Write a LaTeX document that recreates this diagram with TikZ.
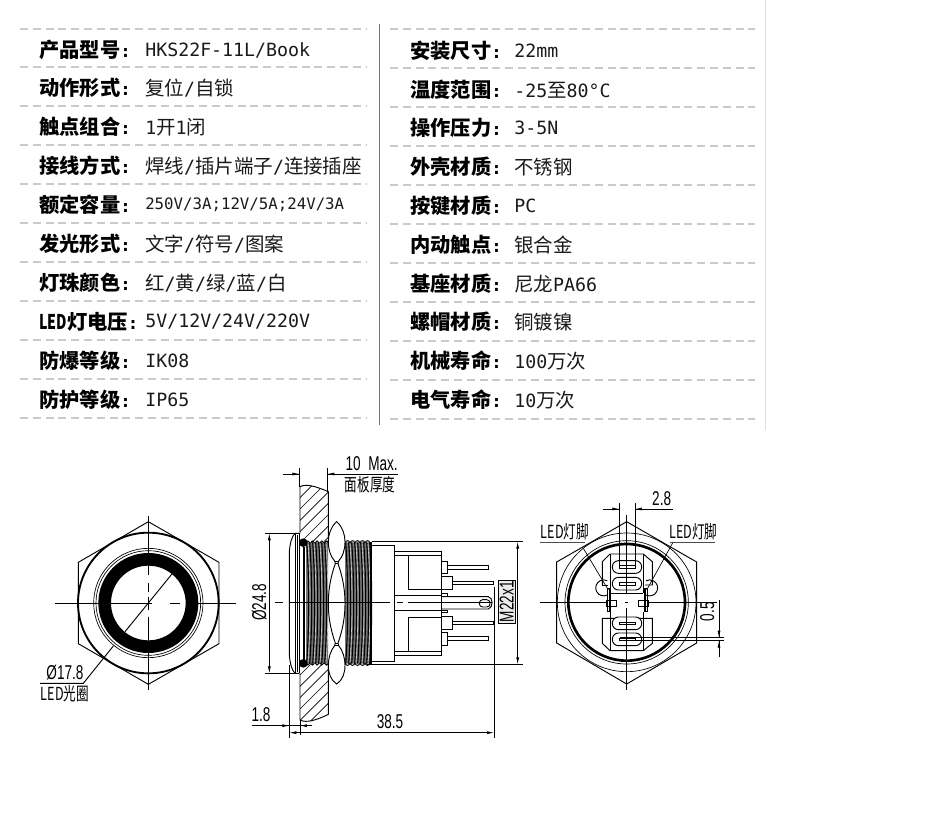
\documentclass[tikz,border=0pt]{standalone}
\usepackage{fontspec}
\usetikzlibrary{arrows.meta}
\newfontfamily\cjk{Noto Sans CJK SC}
\newfontfamily\monof{DejaVu Sans Mono}
\newfontfamily\drawf{Liberation Sans}
\newcommand{\lab}[1]{{\cjk\bfseries\fontsize{15.2}{16}\selectfont #1}{\monof\bfseries\fontsize{13}{16}\selectfont :}}
\newcommand{\ledlab}[1]{{\cjk\bfseries\fontsize{15.2}{16}\selectfont \scalebox{0.7}[1]{LED}#1}{\monof\bfseries\fontsize{13}{16}\selectfont :}}
\newcommand{\cv}[1]{{\cjk\fontsize{14.6}{16}\selectfont #1}}
\newcommand{\mv}[1]{{\monof\fontsize{13.7}{16}\selectfont #1}}
\newcommand{\msm}[1]{{\monof\fontsize{11.8}{16}\selectfont #1}}
\newcommand{\sls}{\mv{/}}
\newcommand{\dt}[1]{\scalebox{0.68}[1]{\drawf\fontsize{15}{15}\selectfont #1}}
\newcommand{\dc}[1]{\scalebox{0.7}[1]{\cjk\fontsize{13.5}{14}\selectfont #1}}
\definecolor{dashgray}{HTML}{CACACA}
\definecolor{inkc}{HTML}{1A1A1A}
\tikzset{
  rowlabel/.style={anchor=west,inner sep=0pt,text=black},
  rowvalue/.style={anchor=west,inner sep=0pt,text=inkc},
  rowrule/.style={dashgray,line width=1pt,dash pattern=on 6pt off 3.6pt},
  thin line/.style={line width=.5pt,black},
  mid line/.style={line width=.7pt,black},
  thick line/.style={line width=1.4pt,black},
  threadline/.style={line width=.85pt,black},
  threadgap/.style={line width=.25pt,white},
  dimarrow/.style={-{Latex[length=5.2pt,width=2.2pt]},line width=.5pt},
  dimtext/.style={inner sep=0pt},
}
\begin{document}
\begin{tikzpicture}[x=.75pt,y=-.75pt]
\useasboundingbox (0,0) rectangle (930,836);
% table frame
\draw[line width=.6pt,black!12] (765,0) -- (765,430);
\draw[line width=1.3pt,black!55] (379.5,24) -- (379.5,425);
\foreach \y in {29,67,106,145,184,223,262,301,340,379,418}{
  \draw[rowrule] (20,\y) -- (366,\y);
}
\foreach \y in {29,68,107,146,185,224,263,302,341,380,419}{
  \draw[rowrule] (390,\y) -- (755,\y);
}
% left column
\node[rowlabel] (la) at (39,50) {\lab{产品型号}};
\node[rowvalue] (va) at (145,50) {\mv{HKS22F-11L/Book}};
\node[rowlabel] (lb) at (39,88) {\lab{动作形式}};
\node[rowvalue] (vb) at (145,88) {\cv{复位}\sls\cv{自锁}};
\node[rowlabel] (lc) at (39,127) {\lab{触点组合}};
\node[rowvalue] (vc) at (145,127) {\mv{1}\cv{开}\mv{1}\cv{闭}};
\node[rowlabel] (ld) at (39,166) {\lab{接线方式}};
\node[rowvalue] (vd) at (145,166) {\cv{焊线}\sls\cv{插片端子}\sls\cv{连接插座}};
\node[rowlabel] (le) at (39,205) {\lab{额定容量}};
\node[rowvalue] (ve) at (145,205) {\msm{250V/3A;12V/5A;24V/3A}};
\node[rowlabel] (lf) at (39,244) {\lab{发光形式}};
\node[rowvalue] (vf) at (145,244) {\cv{文字}\sls\cv{符号}\sls\cv{图案}};
\node[rowlabel] (lg) at (39,283) {\lab{灯珠颜色}};
\node[rowvalue] (vg) at (145,283) {\cv{红}\sls\cv{黄}\sls\cv{绿}\sls\cv{蓝}\sls\cv{白}};
\node[rowlabel] (lh) at (39,322) {\ledlab{灯电压}};
\node[rowvalue] (vh) at (145,322) {\mv{5V/12V/24V/220V}};
\node[rowlabel] (li) at (39,361) {\lab{防爆等级}};
\node[rowvalue] (vi) at (145,361) {\mv{IK08}};
\node[rowlabel] (lj) at (39,400) {\lab{防护等级}};
\node[rowvalue] (vj) at (145,400) {\mv{IP65}};
% right column
\node[rowlabel] (ra) at (410,51) {\lab{安装尺寸}};
\node[rowvalue] (wa) at (514,51) {\mv{22mm}};
\node[rowlabel] (rb) at (410,90) {\lab{温度范围}};
\node[rowvalue] (wb) at (514,90) {\mv{-25}\cv{至}\mv{80°C}};
\node[rowlabel] (rc) at (410,128) {\lab{操作压力}};
\node[rowvalue] (wc) at (514,128) {\mv{3-5N}};
\node[rowlabel] (rd) at (410,167) {\lab{外壳材质}};
\node[rowvalue] (wd) at (514,167) {\cv{不锈钢}};
\node[rowlabel] (re) at (410,206) {\lab{按键材质}};
\node[rowvalue] (we) at (514,206) {\mv{PC}};
\node[rowlabel] (rf) at (410,245) {\lab{内动触点}};
\node[rowvalue] (wf) at (514,245) {\cv{银合金}};
\node[rowlabel] (rg) at (410,284) {\lab{基座材质}};
\node[rowvalue] (wg) at (514,284) {\cv{尼龙}\mv{PA66}};
\node[rowlabel] (rh) at (410,322) {\lab{螺帽材质}};
\node[rowvalue] (wh) at (514,322) {\cv{铜镀镍}};
\node[rowlabel] (ri) at (410,361) {\lab{机械寿命}};
\node[rowvalue] (wi) at (514,361) {\mv{100}\cv{万次}};
\node[rowlabel] (rj) at (410,400) {\lab{电气寿命}};
\node[rowvalue] (wj) at (514,400) {\mv{10}\cv{万次}};

% ---------- front view (zoom 1 coordinates)
\begin{scope}[shift={(20,440)},x=.25pt,y=-.25pt]
  \draw[mid line] (385,245) -- (597,367) -- (597,611) -- (385,733) -- (175,611) -- (175,367) -- cycle;
  \draw[thick line] (385,489) circle[radius=211];
  \draw[thin line] (385,489) circle[radius=164];
  \draw[thin line] (385,489) circle[radius=157];
  \fill[black,even odd rule] (385,489) circle[radius=150] (385,489) circle[radius=112];
  \draw[mid line] (105,489) -- (395,489) (450,489) -- (480,489) (497,489) -- (647,489);
  \draw[mid line] (385,228) -- (385,405) (385,430) -- (385,455) (385,470) -- (385,510) (385,530) -- (385,750);
  \draw[mid line] (455,403) -- (315,575) (280,618) -- (190,730) -- (60,730);
  \node[dimtext] (d178) at (135,698) {\dt{Ø17.8}};
  \node[dimtext] (dled) at (135,762) {\dc{LED光圈}};
\end{scope}

% ---------- side view (zoom 2 coordinates)
\begin{scope}[shift={(240,445)},x=.25pt,y=-.25pt]
  % panel with hatching
  \begin{scope}
    \clip (180,125) .. controls (200,115) and (230,125) .. (265,140) -- (265,290) -- (200,290) -- (180,265) -- cycle;
    \foreach \k in {0,...,12}{ \draw[thin line] (170,{100+34*\k}) -- ++(120,-120); }
  \end{scope}
  \begin{scope}
    \clip (180,825) .. controls (200,835) and (230,825) .. (265,808) -- (265,658) -- (200,658) -- (180,685) -- cycle;
    \foreach \k in {0,...,12}{ \draw[thin line] (170,{700+34*\k}) -- ++(120,-120); }
  \end{scope}
  \draw[mid line] (180,265) -- (180,125) .. controls (200,115) and (230,125) .. (265,140) -- (265,290);
  \draw[mid line] (180,685) -- (180,825) .. controls (200,835) and (230,825) .. (265,808) -- (265,658);
  % head
  \draw[mid line] (178,265) -- (165,265) .. controls (155,275) and (150,295) .. (148,320) -- (148,630) .. controls (150,655) and (155,675) .. (165,685) -- (178,685);
  \draw[thin line] (165,265) -- (165,685);
  \draw[thin line] (172,270) -- (172,680);
  \draw[line width=.9pt,black] (179,265) -- (179,685);
  \draw[line width=.9pt,black] (192,305) -- (192,645);
  % threads
  \fill[black!55] (198,292) rectangle (264,656) (315,292) rectangle (393,656);
  \foreach \x in {200,209,218,227,236,245,254,317,326,335,344,353,362,371,380,389}{
    \draw[threadline] (\x,292) .. controls ({\x+8},400) and ({\x+8},550) .. (\x,656);
  }
  \foreach \x in {204,222,240,258,330,348,366,384}{
    \draw[threadgap] (\x,296) .. controls ({\x+8},400) and ({\x+8},550) .. (\x,652);
  }
  \foreach \x in {315,330,345,360,375}{
    \draw[mid line] (\x,293) .. controls ({\x+4},285) and ({\x+11},285) .. ({\x+15},293);
    \draw[mid line] (\x,655) .. controls ({\x+4},663) and ({\x+11},663) .. ({\x+15},655);
  }
  \foreach \x in {198,212,226,240,254}{
    \draw[mid line] (\x,293) .. controls ({\x+3},286) and ({\x+8},286) .. ({\x+11},293);
    \draw[mid line] (\x,655) .. controls ({\x+3},662) and ({\x+8},662) .. ({\x+11},655);
  }
  \draw[line width=.9pt,black] (393,292) -- (393,656);
  \fill[black] (190,293) circle[radius=13] (190,655) circle[radius=13];
  % nut
  \draw[mid line,fill=white] (290,230) .. controls (272,245) and (265,270) .. (265,290) .. controls (265,315) and (272,335) .. (284,348)
     -- (286,356) .. controls (270,400) and (265,440) .. (265,475) .. controls (265,510) and (270,550) .. (286,594)
     -- (284,602) .. controls (272,615) and (265,640) .. (265,660) .. controls (265,685) and (272,705) .. (290,717)
     .. controls (308,705) and (315,685) .. (315,660) .. controls (315,640) and (308,615) .. (296,602)
     -- (294,594) .. controls (310,550) and (315,510) .. (315,475) .. controls (315,440) and (310,400) .. (294,356)
     -- (296,348) .. controls (308,335) and (315,315) .. (315,290) .. controls (315,270) and (308,245) .. (290,230) -- cycle;
  \draw[mid line] (284,348) -- (296,348) (286,356) -- (294,356) (286,594) -- (294,594) (284,602) -- (296,602);
  % body
  \draw[mid line] (395,300) -- (462,300) -- (462,648) -- (395,648);
  \draw[mid line] (462,320) -- (605,320) -- (605,630) -- (462,630);
  \draw[mid line] (462,332) -- (605,332) (462,618) -- (605,618);
  \draw[mid line] (505,332) rectangle (605,432);
  \draw[mid line] (505,517) rectangle (605,618);
  \draw[mid line] (462,452) -- (605,452) (462,497) -- (605,497);
  % tabs and pins
  \draw[mid line] (605,348) rectangle (622,385);
  \draw[mid line] (622,362) -- (745,362) -- (745,372) -- (622,372);
  \draw[mid line] (605,395) rectangle (638,432);
  \draw[mid line] (638,408) -- (760,408) -- (760,419) -- (638,419);
  \draw[mid line] (605,515) rectangle (638,552);
  \draw[mid line] (638,528) -- (760,528) -- (760,538) -- (638,538);
  \draw[mid line] (605,562) rectangle (622,600);
  \draw[mid line] (622,575) -- (745,575) -- (745,585) -- (622,585);
  \draw[mid line] (605,445) rectangle (622,455);
  \draw[mid line] (605,495) rectangle (622,503);
  \draw[mid line] (605,455) -- (745,455) .. controls (760,458) and (760,487) .. (745,492) -- (605,492);
  \draw[mid line,rounded corners=2.5pt] (718,464) rectangle (750,486);
  % centre line
  \draw[mid line] (105,473) -- (130,473) (150,473) -- (450,473) (470,473) -- (490,473) (505,473) -- (755,473);
  % dimension 10 Max.
  \draw[thin line] (178,70) -- (178,125) (262,70) -- (262,140);
  \draw[thin line] (130,87) -- (178,87) (262,87) -- (475,87);
  \draw[dimarrow] (145,87) -- (178,87);
  \draw[dimarrow] (295,87) -- (262,87);
  \node[dimtext] (dmax) at (395,55) {\dt{10\ \ Max.}};
  \node[dimtext] (dpanel) at (390,118) {\dc{面板厚度}};
  % dimension 24.8
  \draw[thin line] (75,265) -- (170,265) (75,685) -- (170,685);
  \draw[dimarrow] (88,475) -- (88,265);
  \draw[dimarrow] (88,475) -- (88,685);
  \node[dimtext,rotate=90] (d248) at (58,472) {\dt{Ø24.8}};
  % dimension 1.8 / 38.5
  \draw[thin line] (148,660) -- (148,880) (180,825) -- (180,870) (762,425) -- (762,880);
  \draw[thin line] (35,842) -- (215,842);
  \draw[dimarrow] (115,842) -- (148,842);
  \draw[dimarrow] (213,842) -- (180,842);
  \node[dimtext] (d18) at (63,810) {\dt{1.8}};
  \draw[dimarrow] (450,863) -- (148,863);
  \draw[dimarrow] (450,863) -- (762,863);
  \node[dimtext] (d385) at (450,830) {\dt{38.5}};
  % M22x1
  \draw[thin line] (395,290) -- (850,290) (380,658) -- (850,658);
  \draw[dimarrow] (833,475) -- (833,290);
  \draw[dimarrow] (833,475) -- (833,658);
  \node[draw=black,fill=black!8,line width=.3pt,rotate=90,inner xsep=1pt,inner ysep=1pt] (dm22) at (800,470) {\dt{M22x1}};
\end{scope}

% ---------- rear view (zoom 3 coordinates)
\begin{scope}[shift={(530,480)},x=.25pt,y=-.25pt]
  \draw[mid line] (290,125) -- (500,246) -- (500,489) -- (290,612) -- (80,489) -- (80,246) -- cycle;
  \draw[thin line] (290,367) circle[radius=208];
  \draw[thin line] (290,367) circle[radius=185];
  \draw[line width=2pt,black] (290,367) circle[radius=175];
  % base block
  \draw[mid line] (217,315) -- (217,245) -- (240,222) -- (340,222) -- (367,245) -- (367,315) -- (345,315);
  \draw[mid line] (235,315) -- (217,315);
  \draw[mid line] (217,415) -- (217,490) -- (240,512) -- (340,512) -- (367,490) -- (367,415) -- cycle;
  \draw[thin line] (240,222) -- (240,340) (340,222) -- (340,340) (240,395) -- (240,512) (340,395) -- (340,512);
  \draw[thin line] (240,340) -- (340,340);
  \draw[mid line] (232,345) arc[start angle=63,end angle=297,radius=24];
  \draw[mid line] (348,345) arc[start angle=117,end angle=-117,radius=24];
  % slots
  \foreach \y in {261,311,430,478}{
    \draw[mid line,fill=white,rounded corners=4.6pt] (247,{\y-19}) rectangle (335,{\y+19});
    \draw[thin line] (268,{\y-4}) rectangle (317,{\y+4});
  }
  % centre lines
  \draw[thin line] (30,367) -- (232,367) (348,367) -- (560,367) (285,367) -- (295,367);
  \draw[thin line] (290,105) -- (290,340) (290,385) -- (290,630);
  % LED pins
  \draw[mid line,fill=white] (230,360) rectangle (260,380);
  \draw[line width=.9pt,black] (232,325) rectangle (240,395);
  \draw[mid line,fill=white] (325,360) rectangle (355,380);
  \draw[line width=.9pt,black] (345,325) rectangle (353,395);
  % leaders
  \draw[thin line] (235,330) -- (160,205);
  \draw[mid line,black!70] (30,186) -- (165,186);
  \draw[thin line] (350,330) -- (430,185);
  \draw[mid line,black!70] (420,186) -- (555,186);
  \node[dimtext] (dl1) at (105,155) {\dc{LED灯脚}};
  \node[dimtext] (dl2) at (490,155) {\dc{LED灯脚}};
  % 2.8
  \draw[thin line] (268,70) -- (268,262) (315,70) -- (315,262);
  \draw[thin line] (218,87) -- (268,87) (315,87) -- (430,87);
  \draw[dimarrow] (235,87) -- (268,87);
  \draw[dimarrow] (348,87) -- (315,87);
  \node[dimtext] (d28) at (395,55) {\dt{2.8}};
  % 0.5
  \draw[thin line] (270,473) -- (582,473) (270,482) -- (582,482);
  \draw[thin line] (567,360) -- (567,473) (567,482) -- (567,530);
  \draw[dimarrow] (567,438) -- (567,473);
  \draw[dimarrow] (567,518) -- (567,482);
  \node[dimtext,rotate=90] (d05) at (532,395) {\dt{0.5}};
\end{scope}
\end{tikzpicture}
\end{document}
